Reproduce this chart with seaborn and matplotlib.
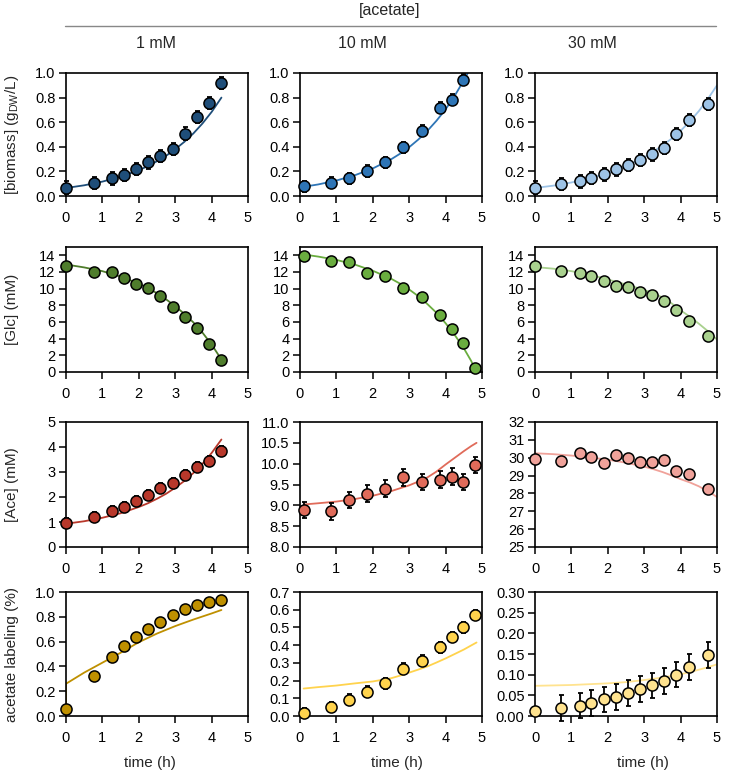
import seaborn as sns
import matplotlib
matplotlib.use('Agg')
import matplotlib.pyplot as plt
from matplotlib.lines import Line2D
import numpy as np

sns.set_style('ticks')
plt.rcParams['font.family'] = ['Liberation Sans', 'DejaVu Sans']
plt.rcParams['mathtext.fontset'] = 'custom'
plt.rcParams['mathtext.rm'] = 'Liberation Sans'

# sampling times (h) for each acetate condition
t_1mM = [0, 0.76, 1.26, 1.59, 1.92, 2.26, 2.59, 2.93, 3.26, 3.6, 3.94, 4.27]
t_10mM = [0.1, 0.85, 1.35, 1.85, 2.34, 2.84, 3.34, 3.84, 4.17, 4.49, 4.81]
t_30mM = [0, 0.72, 1.23, 1.55, 1.89, 2.22, 2.55, 2.89, 3.22, 3.55, 3.88, 4.22, 4.74]

# measured values
bio_1mM = [0.068, 0.103, 0.143, 0.17, 0.219, 0.273, 0.327, 0.384, 0.508, 0.643, 0.754, 0.919]
bio_10mM = [0.081, 0.108, 0.146, 0.203, 0.273, 0.395, 0.53, 0.716, 0.784, 0.946]
bio_30mM = [0.068, 0.095, 0.119, 0.146, 0.176, 0.216, 0.254, 0.295, 0.338, 0.392, 0.503, 0.616, 0.75]

glc_1mM = [12.67, 11.94, 11.98, 11.25, 10.57, 10.04, 9.07, 7.82, 6.57, 5.31, 3.41, 1.43]
glc_10mM = [13.87, 13.3, 13.2, 11.9, 11.54, 10.08, 8.99, 6.88, 5.14, 3.52, 0.5]
glc_30mM = [12.71, 12.1, 11.9, 11.46, 10.97, 10.32, 10.2, 9.64, 9.23, 8.46, 7.41, 6.11, 4.36]

ace_1mM = [0.965, 1.22, 1.46, 1.61, 1.84, 2.1, 2.35, 2.55, 2.88, 3.22, 3.44, 3.83]
ace_10mM = [8.89, 8.86, 9.13, 9.28, 9.4, 9.67, 9.56, 9.62, 9.69, 9.56, 9.97]
ace_30mM = [29.94, 29.79, 30.24, 30.03, 29.7, 30.13, 29.96, 29.74, 29.77, 29.88, 29.24, 29.09, 28.25]

lab_1mM = [0.054, 0.324, 0.476, 0.565, 0.635, 0.703, 0.762, 0.811, 0.859, 0.892, 0.916, 0.938]
lab_10mM = [0.017, 0.051, 0.093, 0.138, 0.185, 0.267, 0.312, 0.388, 0.445, 0.501, 0.571]
lab_30mM = [0.011, 0.019, 0.025, 0.032, 0.04, 0.046, 0.056, 0.066, 0.074, 0.084, 0.1, 0.118, 0.148]

# error bars (sd)
bio_err = [0.05, 0.045, 0.05]
ace_err = [0.2, 0.2, 0.0]
lab_err_10mM = [0.03] * 11
lab_err_30mM = [0.0] + [0.031] * 12

# model fits
fit_t_1mM = [0, 0.5, 1, 1.5, 2, 2.25, 2.5, 2.75, 3, 3.25, 3.5, 3.75, 4, 4.27]
fit_t_10mM = [0.1, 0.5, 1, 1.5, 2, 2.5, 2.75, 3, 3.25, 3.5, 3.75, 4, 4.25, 4.5, 4.7, 4.85]
fit_t_30mM = [0, 0.5, 1, 1.5, 2, 2.5, 3, 3.25, 3.5, 3.75, 4, 4.25, 4.5, 4.75, 5]

fit_bio_1mM = [0.065, 0.087, 0.117, 0.157, 0.21, 0.243, 0.283, 0.327, 0.38, 0.44, 0.509, 0.59, 0.683, 0.80]
fit_bio_10mM = [0.075, 0.094, 0.126, 0.168, 0.224, 0.298, 0.344, 0.397, 0.459, 0.53, 0.612, 0.705, 0.815, 0.94, 1.05, 1.15]
fit_bio_30mM = [0.065, 0.084, 0.110, 0.143, 0.186, 0.242, 0.315, 0.36, 0.41, 0.466, 0.53, 0.605, 0.69, 0.79, 0.90]

fit_glc_1mM = [12.9, 12.55, 12.1, 11.45, 10.6, 10.08, 9.45, 8.72, 7.9, 6.98, 5.95, 4.72, 3.3, 1.5]
fit_glc_10mM = [14.1, 13.85, 13.45, 12.9, 12.15, 11.2, 10.6, 9.9, 9.1, 8.15, 7.1, 5.85, 4.45, 2.85, 1.35, 0.0]
fit_glc_30mM = [12.6, 12.4, 12.1, 11.7, 11.1, 10.5, 9.85, 9.45, 8.95, 8.25, 7.4, 6.65, 5.8, 4.9, 3.9]

fit_ace_1mM = [0.93, 1.03, 1.17, 1.35, 1.6, 1.75, 1.93, 2.13, 2.37, 2.64, 2.96, 3.33, 3.76, 4.3]
fit_ace_10mM = [9.02, 9.05, 9.09, 9.15, 9.23, 9.34, 9.41, 9.48, 9.57, 9.67, 9.81, 9.98, 10.14, 10.3, 10.42, 10.5]
fit_ace_30mM = [30.25, 30.2, 30.12, 30.02, 29.89, 29.72, 29.5, 29.36, 29.2, 29.01, 28.8, 28.62, 28.4, 28.12, 27.8]

fit_lab_t_1mM = [0, 0, 0.5, 1, 1.5, 2, 2.5, 3, 3.5, 4, 4.27]
fit_lab_1mM = [0.06, 0.26, 0.35, 0.43, 0.51, 0.595, 0.665, 0.725, 0.778, 0.827, 0.855]
fit_lab_10mM = [0.155, 0.163, 0.172, 0.184, 0.195, 0.213, 0.228, 0.245, 0.262, 0.28, 0.302, 0.325, 0.35, 0.375, 0.398, 0.415]
fit_lab_30mM = [0.073, 0.074, 0.075, 0.077, 0.079, 0.082, 0.087, 0.09, 0.093, 0.097, 0.101, 0.106, 0.112, 0.118, 0.125]

colors = [['#1f4e79', '#2e75b6', '#9dc3e6'],
          ['#4f7d2c', '#6aad3f', '#a9d18e'],
          ['#b8382b', '#e06b5a', '#f0a29a'],
          ['#bf9000', '#ffd34d', '#ffe38f']]

W, H = 733, 772
fig = plt.figure(figsize=(W / 100, H / 100), dpi=100)

col_left = [66, 300, 535]
col_w = 182
row_top = [73, 247, 422, 592]
row_bot = [196, 372, 547, 716]

panels = [
    [(t_1mM, bio_1mM, bio_err[0], fit_t_1mM, fit_bio_1mM),
     (t_10mM[:10], bio_10mM, bio_err[1], fit_t_10mM, fit_bio_10mM),
     (t_30mM, bio_30mM, bio_err[2], fit_t_30mM, fit_bio_30mM)],
    [(t_1mM, glc_1mM, None, fit_t_1mM, fit_glc_1mM),
     (t_10mM, glc_10mM, None, fit_t_10mM, fit_glc_10mM),
     (t_30mM, glc_30mM, None, fit_t_30mM, fit_glc_30mM)],
    [(t_1mM, ace_1mM, ace_err[0], fit_t_1mM, fit_ace_1mM),
     (t_10mM, ace_10mM, ace_err[1], fit_t_10mM, fit_ace_10mM),
     (t_30mM, ace_30mM, None, fit_t_30mM, fit_ace_30mM)],
    [(t_1mM, lab_1mM, None, fit_lab_t_1mM, fit_lab_1mM),
     (t_10mM, lab_10mM, lab_err_10mM, fit_t_10mM, fit_lab_10mM),
     (t_30mM, lab_30mM, lab_err_30mM, fit_t_30mM, fit_lab_30mM)],
]

yticks = [
    [np.arange(0, 1.01, 0.2)] * 3,
    [np.arange(0, 15, 2)] * 3,
    [np.arange(0, 5.1, 1), np.arange(8, 11.01, 0.5), np.arange(25, 32.1, 1)],
    [np.arange(0, 1.01, 0.2), np.arange(0, 0.71, 0.1), np.arange(0, 0.301, 0.05)],
]
ylims = [
    [(0, 1)] * 3,
    [(0, 15)] * 3,
    [(0, 5), (8, 11), (25, 32)],
    [(0, 1), (0, 0.7), (0, 0.3)],
]
yfmt = [
    ['%.1f'] * 3,
    ['%d'] * 3,
    ['%d', '%.1f', '%d'],
    ['%.1f', '%.1f', '%.2f'],
]

for r in range(4):
    for c in range(3):
        x0 = col_left[c] / W
        y0 = 1 - row_bot[r] / H
        ax = fig.add_axes([x0, y0, col_w / W, (row_bot[r] - row_top[r]) / H])
        t, y, err, ft, fy = panels[r][c]
        col = colors[r][c]
        sns.lineplot(x=ft, y=fy, ax=ax, color=col, lw=1.3, estimator=None, sort=False)
        if err is not None:
            ax.errorbar(t, y, yerr=err, fmt='none', ecolor='black', elinewidth=1.3,
                        capsize=1.8, capthick=1.3, zorder=3, clip_on=False)
        sns.scatterplot(x=t, y=y, ax=ax, color=col, edgecolor='black', linewidth=1.1,
                        s=64, zorder=4, clip_on=False)
        ax.set_xlim(0, 5)
        ax.set_ylim(*ylims[r][c])
        ax.set_xticks(range(6))
        ax.set_yticks(yticks[r][c])
        ax.set_yticklabels([yfmt[r][c] % v for v in yticks[r][c]])
        ax.tick_params(direction='out', length=5, width=1.1, labelsize=10.5, colors='black')
        ax.tick_params(axis='x', pad=6)
        ax.tick_params(axis='y', pad=2.5)
        for s in ax.spines.values():
            s.set_linewidth(1.2)
            s.set_color('black')
        ax.set_xlabel('')
        ax.set_ylabel('')

# headers
fig.text(390 / W, 1 - 10 / H, '[acetate]', ha='center', va='center', fontsize=11.5)
fig.add_artist(Line2D([65 / W, 716 / W], [1 - 26 / H] * 2, color='#888888', lw=1))
for xp, lab in zip([156, 362, 592], ['1 mM', '10 mM', '30 mM']):
    fig.text(xp / W, 1 - 43 / H, lab, ha='center', va='center', fontsize=11.5)

ylabels = ['[biomass] (g$_{\\mathrm{DW}}$/L)', '[Glc] (mM)', '[Ace] (mM)', 'acetate labeling (%)']
for r, lab in enumerate(ylabels):
    yc = (row_top[r] + row_bot[r]) / 2
    fig.text(12 / W, 1 - yc / H, lab, ha='center', va='center', rotation=90, fontsize=11)

for xp in [150, 397, 643]:
    fig.text(xp / W, 1 - 763 / H, 'time (h)', ha='center', va='center', fontsize=11)

fig.savefig('out.png', dpi=100)
